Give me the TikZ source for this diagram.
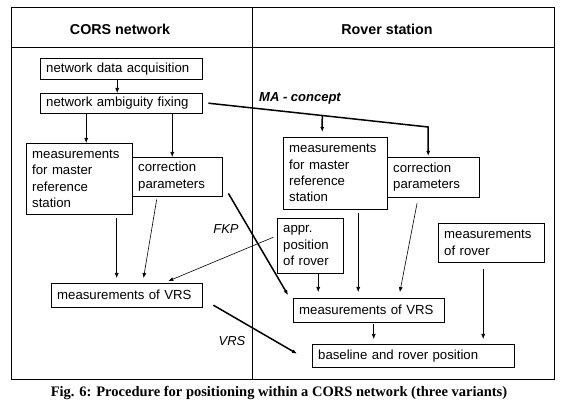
\documentclass[tikz,border=0pt]{standalone}
\usepackage{fontspec}
\setmainfont{Liberation Sans}
\newfontfamily\figfont{Liberation Serif}
\usetikzlibrary{arrows.meta,calc}

\begin{document}
\begin{tikzpicture}[x=1pt,y=-1pt,>={Latex[length=5pt,width=4pt]},
    box/.style={draw,anchor=north west,align=left,inner xsep=6pt,inner ysep=1pt,
        font=\fontsize{13.2}{16.3}\selectfont},
    arr/.style={->,line width=0.6pt},
    big/.style={->,line width=1.5pt},
    lbl/.style={font=\fontsize{13}{15}\selectfont\itshape}]
\useasboundingbox (0,0) rectangle (563,406);
\draw[line width=0.8pt] (11,7) rectangle (554,379);
\draw[line width=0.8pt] (11,47) -- (554,47);
\draw[line width=0.8pt] (252,7) -- (252,379);
\node[font=\fontsize{14.3}{16}\selectfont\bfseries] (cors) at (120,29) {CORS network};
\node[font=\fontsize{14.3}{16}\selectfont\bfseries] (rover) at (387,29) {Rover station};

\node[box,text width=150pt,minimum height=21pt] (acq) at (40,58) {network data acquisition};
\node[box,text width=150pt,minimum height=20pt] (amb) at (40,93) {network ambiguity fixing};
\node[box,text width=94pt,minimum height=71pt] (mastL) at (26,143) {measurements\\for master\\reference\\station};
\node[box,text width=78pt,minimum height=39pt] (corrL) at (132,157) {correction\\parameters};
\node[box,text width=139pt,minimum height=24pt] (vrsL) at (51,283) {measurements of VRS};
\node[box,text width=92pt,minimum height=72pt] (mastR) at (283,137) {measurements\\for master\\reference\\station};
\node[box,text width=80pt,minimum height=40pt] (corrR) at (387,157) {correction\\parameters};
\node[box,text width=54pt,minimum height=55pt] (appr) at (277,218) {appr.\\position\\of rover};
\node[box,text width=94pt,minimum height=39pt] (rovm) at (438,223) {measurements\\of rover};
\node[box,text width=139pt,minimum height=24pt] (vrsR) at (293,298) {measurements of VRS};
\node[box,text width=190pt,minimum height=23pt] (base) at (312,344) {baseline and rover position};

\draw[arr] ([xshift=-4pt]acq.south) -- ([xshift=-4pt]amb.north);
\draw[arr] ([xshift=7pt]mastL.north |- amb.south) -- ([xshift=7pt]mastL.north);
\draw[arr] ([xshift=-5pt]corrL.north |- amb.south) -- ([xshift=-5pt]corrL.north);
\draw[arr,shorten <=4pt,shorten >=5pt] ([xshift=-10pt]vrsL.north |- mastL.south) -- ([xshift=-10pt]vrsL.north);
\draw[arr,shorten <=3pt,shorten >=5pt] ([xshift=-20pt]corrL.south) -- ([xshift=16pt]vrsL.north);
\draw[arr,shorten <=4pt,shorten >=5pt] ([yshift=10pt]appr.west) -- ([xshift=37pt]vrsL.north);

\draw[arr,shorten >=6pt] ([xshift=8pt]appr.south) -- ([xshift=8pt]appr.south |- vrsR.north);
\draw[arr,shorten <=4pt,shorten >=6pt] ([xshift=23pt]mastR.south) -- ([xshift=23pt]mastR.south |- vrsR.north);
\draw[arr,shorten <=6pt,shorten >=6pt] ([xshift=-15pt]corrR.south) -- ([xshift=30pt]vrsR.north);
\draw[arr,shorten <=2pt,shorten >=5pt] ([xshift=5pt]vrsR.south) -- ([xshift=5pt]vrsR.south |- base.north);
\draw[arr,shorten <=7pt,shorten >=5pt] ([xshift=-8pt]rovm.south) -- ([xshift=-8pt]rovm.south |- base.north);

\coordinate (ma) at ([xshift=-5pt,yshift=30pt]corrR.north);
\draw[big,line join=miter,shorten >=1pt] ([xshift=6pt]amb.east) -- (ma) -- ([xshift=-5pt]corrR.north);
\draw[big,shorten >=5pt] ($([xshift=6pt]amb.east)!0.518!(ma)$) -- ([xshift=-13pt]mastR.north);
\draw[big] ([xshift=6pt,yshift=3pt]corrL.south east) -- ([xshift=-5pt,yshift=3pt]vrsR.north west);
\draw[big] ([xshift=11pt,yshift=-10pt]vrsL.east) -- ([xshift=-15pt,yshift=2pt]base.west);

\node[lbl,font=\fontsize{13}{15}\selectfont\bfseries\itshape] (malbl) at (300,98) {MA - concept};
\node[lbl] (fkp) at (226,229) {FKP};
\node[lbl] (vrs) at (232,341) {VRS};

\node[font=\fontsize{14.5}{16}\selectfont\figfont\bfseries] (cap) at (279,393) {Fig. 6: Procedure for positioning within a CORS network (three variants)};
\end{tikzpicture}
\end{document}
